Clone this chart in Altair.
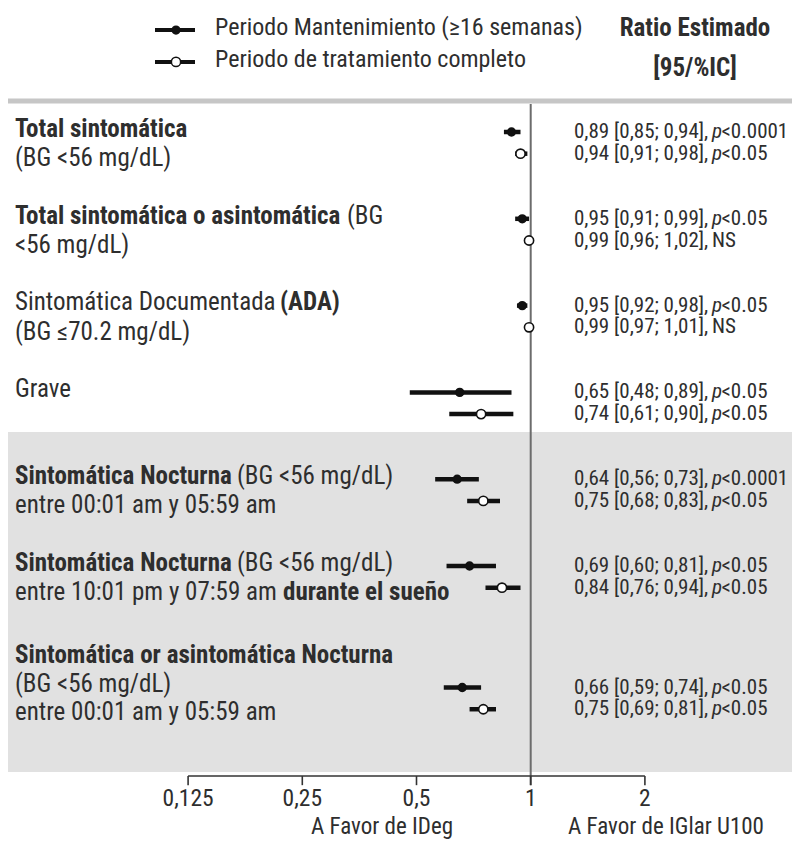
import altair as alt
import pandas as pd

# ---------------- data ----------------
periods = ["Periodo Mantenimiento (≥16 semanas)", "Periodo de tratamiento completo"]
outcomes = [
    "Total sintomática",
    "Total sintomática o asintomática",
    "Sintomática Documentada (ADA)",
    "Grave",
    "Sintomática Nocturna 00:01-05:59",
    "Sintomática Nocturna 10:01-07:59",
    "Sintomática or asintomática Nocturna",
]
maint_est = [0.89, 0.95, 0.95, 0.65, 0.64, 0.69, 0.66]
maint_lo = [0.85, 0.91, 0.92, 0.48, 0.56, 0.60, 0.59]
maint_hi = [0.94, 0.99, 0.98, 0.89, 0.73, 0.81, 0.74]
maint_p = ["p<0.0001", "p<0.05", "p<0.05", "p<0.05", "p<0.0001", "p<0.05", "p<0.05"]
full_est = [0.94, 0.99, 0.99, 0.74, 0.75, 0.84, 0.75]
full_lo = [0.91, 0.96, 0.97, 0.61, 0.68, 0.76, 0.69]
full_hi = [0.98, 1.02, 1.01, 0.90, 0.83, 0.94, 0.81]
full_p = ["p<0.05", "NS", "NS", "p<0.05", "p<0.05", "p<0.05", "p<0.05"]
tick_values = [0.125, 0.25, 0.5, 1, 2]
tick_labels = ["0,125", "0,25", "0,5", "1", "2"]
favour_texts = ["A Favor de IDeg", "A Favor de IGlar U100"]
header_texts = ["Ratio Estimado", "[95/%IC]"]
# label segments: (outcome index, text line, text, bold)
label_segments = [
    (0, 0, "Total sintomática", True), (0, 1, "(BG <56 mg/dL)", False),
    (1, 0, "Total sintomática o asintomática", True), (1, 0, "(BG", False), (1, 1, "<56 mg/dL)", False),
    (2, 0, "Sintomática Documentada", False), (2, 0, "(ADA)", True), (2, 1, "(BG ≤70.2 mg/dL)", False),
    (3, 0, "Grave", False),
    (4, 0, "Sintomática Nocturna", True), (4, 0, "(BG <56 mg/dL)", False), (4, 1, "entre 00:01 am y 05:59 am", False),
    (5, 0, "Sintomática Nocturna", True), (5, 0, "(BG <56 mg/dL)", False),
    (5, 1, "entre 10:01 pm y 07:59 am", False), (5, 1, "durante el sueño", True),
    (6, 0, "Sintomática or asintomática Nocturna", True), (6, 1, "(BG <56 mg/dL)", False),
    (6, 2, "entre 00:01 am y 05:59 am", False),
]

# ---------------- layout (not data) ----------------
W, H = 784, 833
X_ONE, PX_DBL = 522.7, 114.2
ROW_PX, ROW0 = 21.7, 124.0
GROUP_ROW = [0, 4, 8, 12, 16, 20, 25.6]
LINE_OFFS = {0: [-0.15, 1.2], 6: [-1.52, -0.16, 1.15]}
SEG_DX = {(1, 0, "(BG"): 332, (2, 0, "(ADA)"): 265, (4, 0, "(BG <56 mg/dL)"): 222,
          (5, 0, "(BG <56 mg/dL)"): 222, (5, 1, "durante el sueño"): 268}
FONT = "Liberation Sans Narrow, Arial Narrow, Roboto Condensed, DejaVu Sans Condensed, sans-serif"
TXT = "#2e2e2e"
LBL_SIZE, RT_SIZE = 25, 21
RT_X = 566
P_DX = 138
REST_DX = 147.5

x_scale = alt.Scale(type="log", base=2, nice=False, range=[0, W],
                    domain=[2 ** (-X_ONE / PX_DBL), 2 ** ((W - X_ONE) / PX_DBL)])
y_scale = alt.Scale(domain=[-ROW0 / ROW_PX, (H - ROW0) / ROW_PX], range=[0, H], nice=False, zero=False)


def X(f):
    return alt.X(f, type="quantitative", scale=x_scale, axis=None)


def Y(f):
    return alt.Y(f, type="quantitative", scale=y_scale, axis=None)


def text_layer(df, field, xenc, size=LBL_SIZE, bold=False, italic=False, dx=0, align="left", row="row"):
    kw = dict(font=FONT, fontSize=size, fontWeight="bold" if bold else "normal", align=align,
              baseline="middle", color=TXT, dx=dx)
    if italic:
        kw["fontStyle"] = "italic"
    return alt.Chart(df).mark_text(**kw).encode(x=xenc, y=Y(row), text=alt.Text(f"{field}:N"))


def fmt(v):
    return f"{v:.2f}".replace(".", ",")


# estimates table
recs = []
for i, o in enumerate(outcomes):
    for k, (p, e, lo, hi, pv) in enumerate([
        (periods[0], maint_est[i], maint_lo[i], maint_hi[i], maint_p[i]),
        (periods[1], full_est[i], full_lo[i], full_hi[i], full_p[i]),
    ]):
        recs.append(dict(
            outcome=o, period=p, est=e, lo=lo, hi=hi, row=GROUP_ROW[i] + k,
            main=f"{fmt(e)} [{fmt(lo)}; {fmt(hi)}],",
            pl="p" if pv.startswith("p") else "",
            rest=pv[1:] if pv.startswith("p") else "",
            ns="" if pv.startswith("p") else pv,
        ))
est = pd.DataFrame(recs)

layers = []

# grey band behind nocturnal outcomes
band = pd.DataFrame({"a": [13.82], "b": [29.49]})
layers.append(alt.Chart(band).mark_rect(color="#e1e1e1").encode(
    y=Y("a"), y2=alt.Y2("b"), x=alt.value(0), x2=alt.value(W)))

# separator under header
sep = pd.DataFrame({"r": [-1.43]})
layers.append(alt.Chart(sep).mark_rule(color="#c6c6c6", strokeWidth=5).encode(
    y=Y("r"), x=alt.value(0), x2=alt.value(W)))

# reference line at 1
vref = pd.DataFrame({"v": [1.0], "a": [-1.29], "b": [30.1]})
layers.append(alt.Chart(vref).mark_rule(color="#6c6c6c", strokeWidth=2).encode(
    x=X("v"), y=Y("a"), y2=alt.Y2("b")))

# custom axis
AXIS_ROW = 29.68
ax = pd.DataFrame({"a": [tick_values[0]], "b": [tick_values[-1]], "r": [AXIS_ROW]})
layers.append(alt.Chart(ax).mark_rule(color="#333333", strokeWidth=1.6).encode(
    x=X("a"), x2=alt.X2("b"), y=Y("r")))
ticks = pd.DataFrame({"v": tick_values, "lab": tick_labels, "a": AXIS_ROW, "b": AXIS_ROW + 0.42, "t": 30.72})
layers.append(alt.Chart(ticks).mark_rule(color="#333333", strokeWidth=1.6).encode(
    x=X("v"), y=Y("a"), y2=alt.Y2("b")))
layers.append(text_layer(ticks, "lab", X("v"), align="center", row="t", size=23.5))

fav = pd.DataFrame({"t": favour_texts, "x": [2 ** ((374 - X_ONE) / PX_DBL), 2 ** ((658 - X_ONE) / PX_DBL)],
                    "r": 32.05})
layers.append(text_layer(fav, "t", X("x"), align="center", row="r", size=23))

# confidence intervals and points
layers.append(alt.Chart(est).mark_rule(color="#111111", strokeWidth=4.5).encode(
    x=X("lo"), x2=alt.X2("hi"), y=Y("row")))
layers.append(alt.Chart(est).mark_point(filled=True, shape="circle", stroke="#111111", strokeWidth=1.6,
                                         opacity=1).encode(
    x=X("est"), y=Y("row"),
    fill=alt.Fill("period:N", scale=alt.Scale(domain=periods, range=["#111111", "#ffffff"]), legend=None),
    size=alt.Size("period:N", scale=alt.Scale(domain=periods, range=[60, 85]), legend=None)))

# right-hand estimate texts
layers.append(text_layer(est, "main", alt.value(RT_X), size=RT_SIZE))
layers.append(text_layer(est, "pl", alt.value(RT_X), size=RT_SIZE, italic=True, dx=P_DX))
layers.append(text_layer(est, "rest", alt.value(RT_X), size=RT_SIZE, dx=REST_DX))
layers.append(text_layer(est, "ns", alt.value(RT_X), size=RT_SIZE, dx=P_DX))

# left labels
lab_recs = []
for (g, ln, t, b) in label_segments:
    offs = LINE_OFFS.get(g, LINE_OFFS[0])
    lab_recs.append(dict(t=t, bold=b, row=GROUP_ROW[g] + offs[ln], dx=SEG_DX.get((g, ln, t), 0)))
labs = pd.DataFrame(lab_recs)
for (b, dx), sub in labs.groupby(["bold", "dx"]):
    layers.append(text_layer(sub.reset_index(drop=True), "t", alt.value(7), bold=bool(b), dx=float(dx)))

# header: legend + column title
leg = pd.DataFrame({"period": periods, "row": [-4.70, -3.23]})
layers.append(alt.Chart(leg).mark_rule(color="#111111", strokeWidth=4).encode(
    x=alt.value(147), x2=alt.value(187), y=Y("row")))
layers.append(alt.Chart(leg).mark_point(filled=True, shape="circle", stroke="#111111", strokeWidth=1.5,
                                        opacity=1).encode(
    x=alt.value(168), y=Y("row"),
    fill=alt.Fill("period:N", scale=alt.Scale(domain=periods, range=["#111111", "#ffffff"]), legend=None),
    size=alt.Size("period:N", scale=alt.Scale(domain=periods, range=[45, 60]), legend=None)))
leg_t = pd.DataFrame({"t": periods, "row": [-4.78, -3.3]})
layers.append(text_layer(leg_t, "t", alt.value(207), size=24))
hdr = pd.DataFrame({"t": header_texts, "row": [-4.79, -2.95]})
layers.append(text_layer(hdr, "t", alt.value(687), bold=True, align="center"))

chart = alt.layer(*layers).properties(
    width=W, height=H,
    autosize=alt.AutoSizeParams(type="none"),
    padding={"left": 0, "top": 0, "right": 0, "bottom": 0},
).configure_view(stroke=None)

chart.save("out.html", embed_options={"renderer": "svg", "actions": False})
